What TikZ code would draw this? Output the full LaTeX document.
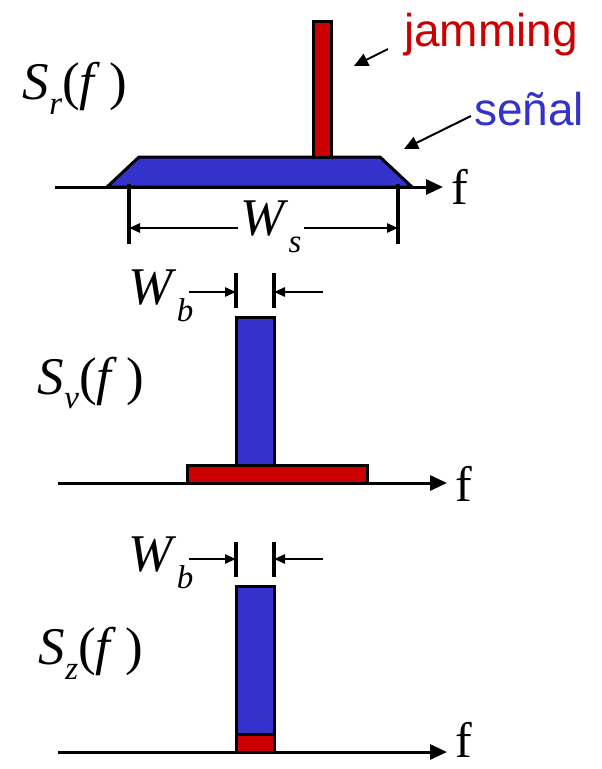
\documentclass[tikz,border=0pt]{standalone}
\usepackage{fontspec}
\setmainfont{Liberation Serif}
\newfontfamily\labelsans{Liberation Sans}
\usetikzlibrary{arrows.meta}
\definecolor{sigblue}{HTML}{3333CC}
\definecolor{jamred}{HTML}{CC0000}
\newcommand{\psdlabel}[1]{\textit{S}\raisebox{-0.28em}{\fontsize{33}{33}\selectfont\textit{#1}}(\textit{f}\,)}
\newcommand{\widthlabel}[1]{\textit{W}\raisebox{-0.32em}{\fontsize{33}{33}\selectfont\textit{#1}}}
\begin{document}
\begin{tikzpicture}[x=1pt,y=-1pt,
  axis/.style={line width=3pt,-{Triangle[length=17pt,width=15pt]}},
  shapebox/.style={draw=black,line width=3pt,line join=miter},
  tick/.style={line width=3.5pt},
  dimarrow/.style={line width=2.5pt,-{Triangle[length=11pt,width=9pt]}},
  pointer/.style={line width=2pt,-{Triangle[length=14pt,width=13pt]}},
  mathlbl/.style={inner sep=0pt,font=\fontsize{53}{53}\selectfont},
  flbl/.style={inner sep=0pt,anchor=base west,font=\fontsize{50}{50}\selectfont},
  sanslbl/.style={inner sep=0pt,anchor=base west,font=\labelsans\fontsize{46}{46}\selectfont}
]
\useasboundingbox (0,0) rectangle (602,769);

% ---------- panel 1 ----------
\coordinate (a1s) at (55,187);
\coordinate (a1e) at (443,187);
\filldraw[shapebox,fill=sigblue] (107,187) -- (139,157) -- (380,157) -- (412,187) -- cycle;
\filldraw[shapebox,fill=jamred] (313,21) rectangle (331,157);
\draw[axis] (a1s) -- (a1e);
\node[flbl] (f1) at (451,204) {f};
\node[mathlbl] (sr) at (75,88) {\psdlabel{r}};
\coordinate (t1a) at (129,184);
\coordinate (t1b) at (129,244);
\coordinate (t2a) at (398,184);
\coordinate (t2b) at (398,244);
\draw[tick] (t1a) -- (t1b);
\draw[tick] (t2a) -- (t2b);
\node[mathlbl] (ws) at (271,227) {\widthlabel{s}};
\coordinate (wsl) at (129,228);
\coordinate (wsr) at (398,228);
\draw[dimarrow] (238,228) -- (wsl);
\draw[dimarrow] (304,228) -- (wsr);
\node[sanslbl,text=jamred] (jam) at (404,46) {jamming};
\node[sanslbl,text=sigblue] (sen) at (474,125) {señal};
\coordinate (jp1) at (388,49);
\coordinate (jp2) at (354,66);
\draw[pointer] (jp1) -- (jp2);
\coordinate (sp1) at (471,116);
\coordinate (sp2) at (404,149);
\draw[pointer] (sp1) -- (sp2);

% ---------- panel 2 ----------
\coordinate (a2s) at (58,483);
\coordinate (a2e) at (447,483);
\filldraw[shapebox,fill=sigblue] (236,317) rectangle (274,465);
\filldraw[shapebox,fill=jamred] (187,465) rectangle (367,483);
\draw[axis] (a2s) -- (a2e);
\node[flbl] (f2) at (455,501) {f};
\node[mathlbl] (sv) at (91,383) {\psdlabel{v}};
\draw[tick] (236,273) -- (236,308);
\draw[tick] (274,273) -- (274,308);
\node[mathlbl] (wb1) at (161,296) {\widthlabel{b}};
\coordinate (b1l) at (236,292);
\coordinate (b1r) at (274,292);
\draw[dimarrow] (189,292) -- (b1l);
\draw[dimarrow] (323,292) -- (b1r);

% ---------- panel 3 ----------
\coordinate (a3s) at (58,752);
\coordinate (a3e) at (447,752);
\filldraw[shapebox,fill=sigblue] (236,586) rectangle (274,734);
\filldraw[shapebox,fill=jamred] (236,734) rectangle (274,752);
\draw[axis] (a3s) -- (a3e);
\node[flbl] (f3) at (455,757) {f};
\node[mathlbl] (sz) at (91,653) {\psdlabel{z}};
\draw[tick] (236,542) -- (236,577);
\draw[tick] (274,542) -- (274,577);
\node[mathlbl] (wb2) at (161,563) {\widthlabel{b}};
\coordinate (b2l) at (236,559);
\coordinate (b2r) at (274,559);
\draw[dimarrow] (189,559) -- (b2l);
\draw[dimarrow] (323,559) -- (b2r);
\end{tikzpicture}
\end{document}
